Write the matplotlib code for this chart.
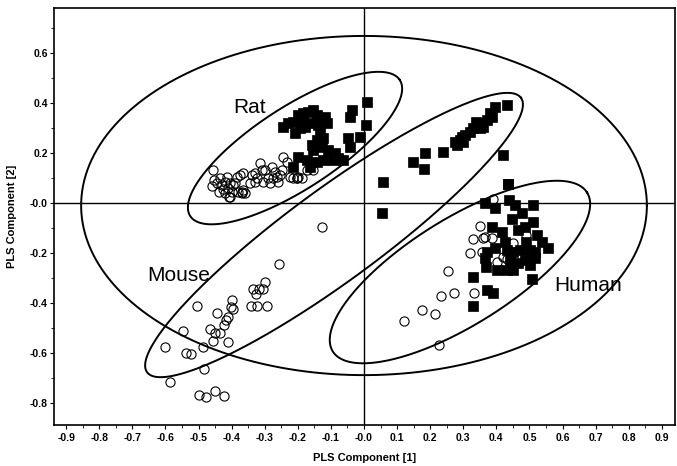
import numpy as np
import matplotlib
matplotlib.use("Agg")
import matplotlib.pyplot as plt
from matplotlib.ticker import MultipleLocator, FixedLocator

# filled squares
rat_sq_x = [-0.244, -0.229, -0.214, -0.198, -0.183, -0.168, -0.153, -0.143, -0.128, -0.118,
            -0.113, -0.138, -0.163, -0.178, -0.193, -0.208, -0.188, -0.133, -0.123, -0.143,
            -0.158, -0.153, -0.128, -0.108, -0.088, -0.078, -0.063, -0.093, -0.123, -0.143,
            -0.163, -0.198, -0.214, -0.173, -0.037, -0.042, 0.008, 0.006, -0.012, -0.047, -0.042]
rat_sq_y = [0.306, 0.319, 0.326, 0.353, 0.360, 0.366, 0.373, 0.353, 0.339, 0.346,
            0.319, 0.313, 0.319, 0.306, 0.299, 0.279, 0.333, 0.293, 0.259, 0.253,
            0.232, 0.212, 0.226, 0.212, 0.199, 0.179, 0.172, 0.172, 0.172, 0.166,
            0.146, 0.186, 0.146, 0.172, 0.373, 0.346, 0.406, 0.313, 0.266, 0.259, 0.226]

mid_sq_x = [0.431, 0.396, 0.381, 0.371, 0.356, 0.340, 0.330, 0.320, 0.305, 0.295,
            0.290, 0.275, 0.280, 0.300, 0.350, 0.360, 0.386, 0.240, 0.184, 0.149,
            0.182, 0.058, 0.053, 0.421, 0.436]
mid_sq_y = [0.393, 0.386, 0.359, 0.333, 0.319, 0.326, 0.299, 0.286, 0.273, 0.266,
            0.253, 0.246, 0.232, 0.246, 0.299, 0.306, 0.346, 0.206, 0.199, 0.166,
            0.136, 0.085, -0.041, 0.192, 0.076]

hum_sq_x = [0.436, 0.366, 0.396, 0.439, 0.456, 0.477, 0.511, 0.446, 0.511, 0.487,
            0.466, 0.386, 0.416, 0.522, 0.537, 0.557, 0.491, 0.502, 0.517, 0.471,
            0.451, 0.431, 0.426, 0.396, 0.371, 0.366, 0.369, 0.401, 0.431, 0.451,
            0.466, 0.487, 0.502, 0.517, 0.441, 0.330, 0.371, 0.391, 0.507, 0.330]
hum_sq_y = [0.076, -0.001, -0.021, 0.012, -0.008, -0.041, -0.008, -0.065, -0.075, -0.095,
            -0.108, -0.097, -0.115, -0.128, -0.155, -0.182, -0.155, -0.188, -0.195, -0.188,
            -0.195, -0.188, -0.155, -0.182, -0.195, -0.222, -0.255, -0.269, -0.269, -0.269,
            -0.242, -0.229, -0.249, -0.222, -0.229, -0.295, -0.349, -0.362, -0.306, -0.413]

# open circles
rat_ci_x = [-0.453, -0.460, -0.445, -0.435, -0.430, -0.420, -0.415, -0.425, -0.410, -0.400,
            -0.395, -0.405, -0.437, -0.420, -0.407, -0.380, -0.370, -0.365, -0.375, -0.365,
            -0.385, -0.390, -0.344, -0.339, -0.329, -0.314, -0.309, -0.299, -0.289, -0.279,
            -0.269, -0.274, -0.264, -0.259, -0.254, -0.249, -0.244, -0.234, -0.224, -0.214,
            -0.204, -0.199, -0.284, -0.304, -0.324, -0.329, -0.173, -0.153, -0.203, -0.188,
            -0.455, -0.405, -0.370, -0.360]
rat_ci_y = [0.092, 0.069, 0.079, 0.099, 0.072, 0.085, 0.105, 0.056, 0.059, 0.045,
            0.072, 0.079, 0.045, 0.039, 0.025, 0.045, 0.043, 0.052, 0.112, 0.119,
            0.105, 0.082, 0.082, 0.112, 0.119, 0.159, 0.132, 0.132, 0.099, 0.146,
            0.125, 0.099, 0.105, 0.085, 0.112, 0.132, 0.186, 0.166, 0.105, 0.099,
            0.099, 0.105, 0.079, 0.085, 0.099, 0.085, 0.132, 0.132, 0.099, 0.099,
            0.132, 0.025, 0.041, 0.041]

mouse_ci_x = [-0.127, -0.256, -0.298, -0.306, -0.318, -0.337, -0.326, -0.292, -0.322, -0.341,
              -0.399, -0.403, -0.397, -0.410, -0.417, -0.422, -0.435, -0.443, -0.465, -0.449,
              -0.455, -0.410, -0.504, -0.548, -0.487, -0.601, -0.538, -0.524, -0.485, -0.586,
              -0.498, -0.477, -0.449, -0.423]
mouse_ci_y = [-0.096, -0.246, -0.315, -0.346, -0.346, -0.343, -0.366, -0.413, -0.412, -0.413,
              -0.389, -0.416, -0.426, -0.456, -0.469, -0.489, -0.520, -0.442, -0.506, -0.520,
              -0.552, -0.556, -0.413, -0.512, -0.576, -0.577, -0.602, -0.605, -0.664, -0.716,
              -0.770, -0.776, -0.754, -0.772]

hum_ci_x = [0.391, 0.350, 0.330, 0.320, 0.366, 0.386, 0.356, 0.401, 0.421, 0.431,
            0.451, 0.491, 0.332, 0.255, 0.272, 0.232, 0.175, 0.215, 0.120, 0.226, 0.360]
hum_ci_y = [0.015, -0.092, -0.146, -0.199, -0.135, -0.142, -0.195, -0.235, -0.215, -0.226,
            -0.162, -0.128, -0.362, -0.271, -0.359, -0.373, -0.429, -0.446, -0.473, -0.570, -0.142]

group_names = ["Rat", "Mouse", "Human"]


def draw_ellipse(ax, center, vec_a, vec_b, lw=1.4):
    t = np.linspace(0, 2 * np.pi, 400)
    xs = center[0] + vec_a[0] * np.cos(t) + vec_b[0] * np.sin(t)
    ys = center[1] + vec_a[1] * np.cos(t) + vec_b[1] * np.sin(t)
    ax.plot(xs, ys, color="black", lw=lw, zorder=1)


def main():
    plt.rcParams["font.family"] = ["Liberation Sans", "DejaVu Sans"]
    fig = plt.figure(figsize=(6.77, 4.66), dpi=100)
    ax = fig.add_axes([54 / 677, 41 / 466, 621 / 677, 417 / 466])
    ax.set_xlim(-0.937, 0.94)
    ax.set_ylim(-0.89, 0.782)

    ax.axhline(0, color="black", lw=1.0, zorder=1)
    ax.axvline(0, color="black", lw=1.0, zorder=1)

    # outer ellipse + one per group
    draw_ellipse(ax, (0.0, -0.01), (0.855, 0.0), (0.0, 0.68))
    draw_ellipse(ax, (-0.2085, 0.2204), (0.3167, 0.2729), (0.0675, -0.1379))
    draw_ellipse(ax, (-0.0906, -0.1283), (0.565, 0.5503), (0.0823, -0.1487))
    draw_ellipse(ax, (0.290, -0.2766), (0.3843, 0.3186), (0.0849, -0.1801))

    sq_x = rat_sq_x + mid_sq_x + hum_sq_x
    sq_y = rat_sq_y + mid_sq_y + hum_sq_y
    ci_x = rat_ci_x + mouse_ci_x + hum_ci_x
    ci_y = rat_ci_y + mouse_ci_y + hum_ci_y

    ax.plot(ci_x, ci_y, "o", ms=6.6, mfc="none", mec="black", mew=0.8, zorder=2)
    ax.plot(sq_x, sq_y, "s", ms=6.5, mfc="black", mec="black", mew=0.5, zorder=3)

    label_pos = [(-0.347, 0.361), (-0.561, -0.311), (0.678, -0.351)]
    for name, (lx, ly) in zip(group_names, label_pos):
        ax.text(lx, ly, name, fontsize=15, ha="center", va="baseline")

    xt = np.round(np.arange(-0.9, 0.91, 0.1), 1)
    ax.xaxis.set_major_locator(FixedLocator(xt))
    ax.set_xticklabels([f"{v:.1f}" for v in xt])
    ax.xaxis.set_minor_locator(MultipleLocator(0.05))
    yt = [0.6, 0.4, 0.2, 0.0, -0.2, -0.4, -0.6, -0.8]
    ax.yaxis.set_major_locator(FixedLocator(yt))
    ax.set_yticklabels(["0.6", "0.4", "0.2", "-0.0", "-0.2", "-0.4", "-0.6", "-0.8"])
    ax.yaxis.set_minor_locator(MultipleLocator(0.1))

    ax.tick_params(axis="both", which="major", direction="out", length=3, width=0.8,
                   labelsize=7.5)
    ax.tick_params(axis="x", which="major", pad=3)
    ax.tick_params(axis="y", which="major", pad=1.5)
    ax.tick_params(axis="both", which="minor", direction="out", length=2, width=0.6)
    for lab in ax.get_xticklabels() + ax.get_yticklabels():
        lab.set_fontweight("bold")
    for s in ax.spines.values():
        s.set_linewidth(1.2)

    ax.set_xlabel("PLS Component [1]", fontsize=8, fontweight="bold", labelpad=7)
    ax.set_ylabel("PLS Component [2]", fontsize=8, fontweight="bold", labelpad=9)

    fig.savefig("out.png", dpi=100)
    plt.close(fig)


if __name__ == "__main__":
    main()
